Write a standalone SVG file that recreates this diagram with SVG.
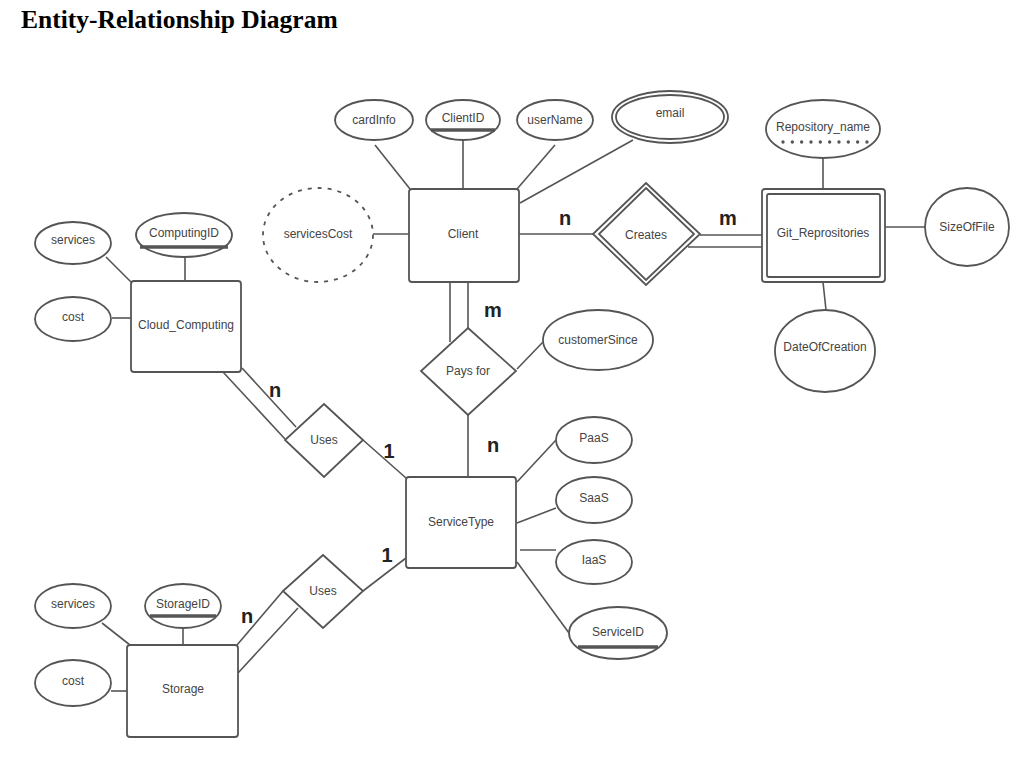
<svg xmlns="http://www.w3.org/2000/svg" width="1033" height="760" viewBox="0 0 1033 760">
<style>
.s{fill:#fff;stroke:#555;stroke-width:1.8}
.l{fill:none;stroke:#555;stroke-width:1.6}
.t{font-family:"Liberation Sans",Arial,sans-serif;font-size:12px;fill:#444;text-anchor:middle;dominant-baseline:central}
.c{font-family:"Liberation Sans",Arial,sans-serif;font-size:20px;font-weight:bold;fill:#222;text-anchor:middle;dominant-baseline:central}
.u{stroke:#555;stroke-width:3.5}
</style>
<rect width="1033" height="760" fill="#fff"/>
<text x="21" y="28" font-family="'Liberation Serif',serif" font-size="25.5" font-weight="bold" fill="#000">Entity-Relationship Diagram</text>
<g id="connectors">
<line class="l" x1="375" y1="145" x2="410" y2="189"/>
<line class="l" x1="463" y1="140" x2="463" y2="189"/>
<line class="l" x1="555" y1="145" x2="517" y2="189"/>
<line class="l" x1="633" y1="140" x2="520" y2="203"/>
<line class="l" x1="373" y1="234" x2="409" y2="234"/>
<line class="l" x1="519" y1="234" x2="593" y2="234"/>
<line class="l" x1="700" y1="235" x2="762" y2="235"/>
<line class="l" x1="688" y1="247" x2="762" y2="247"/>
<line class="l" x1="823" y1="158" x2="823" y2="189"/>
<line class="l" x1="885" y1="227" x2="925" y2="227"/>
<line class="l" x1="823" y1="282" x2="826" y2="310"/>
<line class="l" x1="106" y1="257" x2="131" y2="282"/>
<line class="l" x1="112" y1="318" x2="131" y2="318"/>
<line class="l" x1="185" y1="257" x2="185" y2="281"/>
<line class="l" x1="223" y1="372" x2="285" y2="439"/>
<line class="l" x1="242" y1="368" x2="296" y2="427"/>
<line class="l" x1="363" y1="440" x2="406" y2="478"/>
<line class="l" x1="450" y1="282" x2="450" y2="342"/>
<line class="l" x1="468" y1="282" x2="468" y2="328"/>
<line class="l" x1="517" y1="369" x2="543" y2="342"/>
<line class="l" x1="468" y1="415" x2="468" y2="477"/>
<line class="l" x1="517" y1="482" x2="556" y2="440"/>
<line class="l" x1="517" y1="523" x2="556" y2="508"/>
<line class="l" x1="520" y1="550" x2="556" y2="550"/>
<line class="l" x1="517" y1="562" x2="569" y2="633"/>
<line class="l" x1="102" y1="623" x2="130" y2="645"/>
<line class="l" x1="183" y1="629" x2="183" y2="645"/>
<line class="l" x1="111" y1="691" x2="127" y2="691"/>
<line class="l" x1="237" y1="645" x2="283" y2="591"/>
<line class="l" x1="238" y1="673" x2="298" y2="608"/>
<line class="l" x1="363" y1="591" x2="406" y2="558"/>
</g>
<g id="labels">
<text class="c" x="565" y="218">n</text>
<text class="c" x="728" y="218">m</text>
<text class="c" x="493" y="310">m</text>
<text class="c" x="493" y="445">n</text>
<text class="c" x="275" y="390">n</text>
<text class="c" x="389" y="451">1</text>
<text class="c" x="387" y="555">1</text>
<text class="c" x="247" y="616">n</text>
</g>
<g id="cardInfo"><ellipse class="s" cx="374" cy="120" rx="39" ry="20"/><text class="t" x="374" y="120">cardInfo</text></g>
<g id="ClientID"><ellipse class="s" cx="463" cy="120" rx="37" ry="20"/><line class="u" x1="431" y1="130" x2="495" y2="130"/><text class="t" x="463" y="118">ClientID</text></g>
<g id="userName"><ellipse class="s" cx="555" cy="120" rx="38" ry="20"/><text class="t" x="555" y="120">userName</text></g>
<g id="email"><ellipse class="s" cx="670" cy="117" rx="58" ry="26"/><ellipse class="s" cx="670" cy="117" rx="54" ry="22"/><text class="t" x="670" y="113">email</text></g>
<g id="servicesCost"><ellipse class="s" cx="318" cy="235" rx="55" ry="47" stroke-dasharray="4 6"/><text class="t" x="318" y="234">servicesCost</text></g>
<g id="Client"><rect class="s" x="409" y="189" width="110" height="93" rx="3"/><text class="t" x="463" y="234">Client</text></g>
<g id="Creates"><polygon class="s" points="646,183 700,234 646,285 593,234"/><polygon class="s" points="646,188 694,234 646,280 599,234"/><text class="t" x="646" y="235">Creates</text></g>
<g id="Repository_name"><ellipse class="s" cx="823" cy="129" rx="57" ry="29"/><line x1="783" y1="142" x2="867" y2="142" stroke="#555" stroke-width="3.4" stroke-dasharray="0 9.33" stroke-linecap="round"/><text class="t" x="823" y="127">Repository_name</text></g>
<g id="Git_Reprositories"><rect class="s" x="762" y="189" width="123" height="93" rx="3"/><rect class="s" x="767" y="194" width="113" height="83" rx="2"/><text class="t" x="823" y="233">Git_Reprositories</text></g>
<g id="SizeOfFile"><ellipse class="s" cx="967" cy="227" rx="42" ry="39"/><text class="t" x="967" y="227">SizeOfFile</text></g>
<g id="DateOfCreation"><ellipse class="s" cx="825" cy="351" rx="50" ry="41"/><text class="t" x="825" y="347">DateOfCreation</text></g>
<g id="services1"><ellipse class="s" cx="73" cy="243" rx="38" ry="21"/><text class="t" x="73" y="240">services</text></g>
<g id="ComputingID"><ellipse class="s" cx="184" cy="235" rx="48" ry="22"/><line class="u" x1="140" y1="247" x2="228" y2="247"/><text class="t" x="184" y="233">ComputingID</text></g>
<g id="cost1"><ellipse class="s" cx="73" cy="319" rx="38" ry="22"/><text class="t" x="73" y="317">cost</text></g>
<g id="Cloud_Computing"><rect class="s" x="131" y="281" width="110" height="91" rx="3"/><text class="t" x="186" y="325">Cloud_Computing</text></g>
<g id="Uses1"><polygon class="s" points="324,404 363,440 324,477 285,440"/><text class="t" x="324" y="440">Uses</text></g>
<g id="Pays_for"><polygon class="s" points="468,328 516,371 468,415 421,371"/><text class="t" x="468" y="371">Pays for</text></g>
<g id="customerSince"><ellipse class="s" cx="598" cy="340" rx="55" ry="30"/><text class="t" x="598" y="340">customerSince</text></g>
<g id="ServiceType"><rect class="s" x="406" y="477" width="110" height="91" rx="3"/><text class="t" x="461" y="522">ServiceType</text></g>
<g id="PaaS"><ellipse class="s" cx="594" cy="440" rx="38" ry="23"/><text class="t" x="594" y="438">PaaS</text></g>
<g id="SaaS"><ellipse class="s" cx="594" cy="500" rx="38" ry="23"/><text class="t" x="594" y="498">SaaS</text></g>
<g id="IaaS"><ellipse class="s" cx="594" cy="562" rx="38" ry="22"/><text class="t" x="594" y="560">IaaS</text></g>
<g id="ServiceID"><ellipse class="s" cx="618" cy="633" rx="49" ry="26"/><line class="u" x1="578" y1="647" x2="658" y2="647"/><text class="t" x="618" y="632">ServiceID</text></g>
<g id="services2"><ellipse class="s" cx="73" cy="606" rx="38" ry="22"/><text class="t" x="73" y="604">services</text></g>
<g id="StorageID"><ellipse class="s" cx="183" cy="606" rx="38" ry="22"/><line class="u" x1="150" y1="616" x2="216" y2="616"/><text class="t" x="183" y="604">StorageID</text></g>
<g id="cost2"><ellipse class="s" cx="73" cy="683" rx="38" ry="23"/><text class="t" x="73" y="681">cost</text></g>
<g id="Storage"><rect class="s" x="127" y="645" width="111" height="92" rx="3"/><text class="t" x="183" y="689">Storage</text></g>
<g id="Uses2"><polygon class="s" points="323,555 363,591 323,628 283,591"/><text class="t" x="323" y="591">Uses</text></g>
</svg>
